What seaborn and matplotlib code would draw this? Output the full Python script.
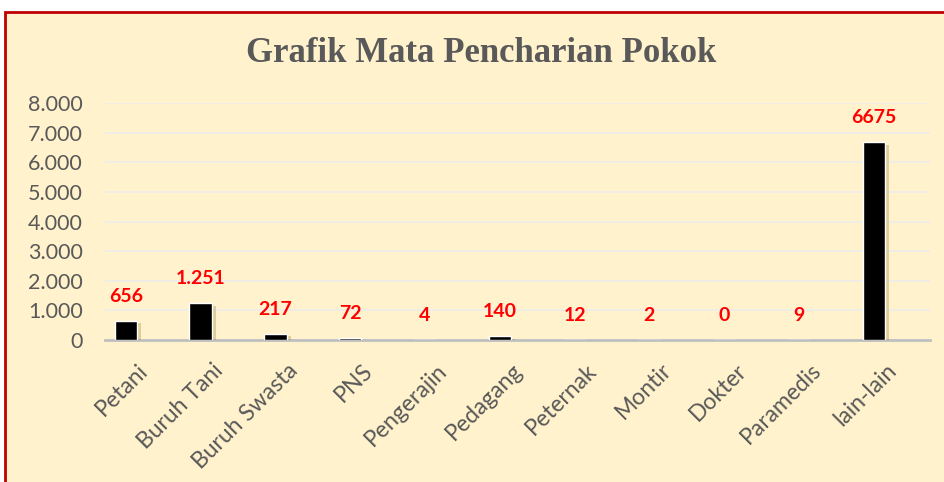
import pandas as pd
import matplotlib.pyplot as plt
import matplotlib.patheffects as pe
import matplotlib.transforms as mtrans
import seaborn as sns
from matplotlib.patches import Rectangle

categories = ["Petani", "Buruh Tani", "Buruh Swasta", "PNS", "Pengerajin", "Pedagang",
              "Peternak", "Montir", "Dokter", "Paramedis", "lain-lain"]
values = [656, 1251, 217, 72, 4, 140, 12, 2, 0, 9, 6675]
value_labels = ["656", "1.251", "217", "72", "4", "140", "12", "2", "0", "9", "6675"]
yticks = [0, 1000, 2000, 3000, 4000, 5000, 6000, 7000, 8000]
ytick_labels = ["0", "1.000", "2.000", "3.000", "4.000", "5.000", "6.000", "7.000", "8.000"]


def main():
    df = pd.DataFrame({"pekerjaan": categories, "jumlah": values})

    bg = "#FFF2CC"
    sns.set_style("white")
    plt.rcParams["font.family"] = ["Lato", "DejaVu Sans"]

    fig = plt.figure(figsize=(9.44, 4.82), dpi=100, facecolor="white")
    # outer chart frame (red border), kept behind the axes
    frame = Rectangle((5 / 944, -0.1), 1.2, 1 - 12 / 482 + 0.1,
                      transform=fig.transFigure, facecolor=bg,
                      edgecolor="#C00000", linewidth=2, zorder=-10)
    fig.patches.append(frame)

    ax = fig.add_axes([0.111, 1 - 340 / 482, 0.874, (340 - 103) / 482])
    ax.set_facecolor(bg)
    sns.barplot(data=df, x="pekerjaan", y="jumlah", color="black", width=0.3,
                ax=ax, zorder=3)
    for bar in ax.patches:
        bar.set_path_effects([pe.SimplePatchShadow(offset=(3, -2), alpha=0.25, shadow_rgbFace="#7F6000"),
                              pe.Normal()])

    ax.set_ylim(0, 8000)
    ax.set_xlim(-0.28, 10.75)
    ax.set_yticks(yticks)
    ax.set_yticklabels(ytick_labels, fontsize=15.5, color="#595959")
    ax.grid(axis="y", color="#EDEDED", linewidth=1.2, zorder=0)
    ax.set_axisbelow(True)
    for s in ["top", "right", "left"]:
        ax.spines[s].set_visible(False)
    ax.spines["bottom"].set_color("#BFBFBF")
    ax.spines["bottom"].set_linewidth(2)
    ax.tick_params(axis="y", length=0, pad=16)
    ax.tick_params(axis="x", length=0, pad=0)

    ax.set_xticks(range(len(categories)))
    ax.set_xticklabels(categories, rotation=45, ha="right", va="center",
                       rotation_mode="anchor", fontsize=16.5, color="#595959")
    shift = mtrans.ScaledTranslation(19 / 100, -27 / 100, fig.dpi_scale_trans)
    for lab in ax.get_xticklabels():
        lab.set_transform(lab.get_transform() + shift)
    ax.set_xlabel("")
    ax.set_ylabel("")

    for i, (v, lab) in enumerate(zip(values, value_labels)):
        ax.annotate(lab, (i, v), xytext=(0, 17.5), textcoords="offset points",
                    ha="center", va="center", color="#FF0000", fontsize=14,
                    fontweight="bold")

    fig.text(0.51, 1 - 53 / 482, "Grafik Mata Pencharian Pokok", ha="center", va="center",
             fontsize=25, fontweight="bold", color="#595959",
             family=["Liberation Serif", "DejaVu Serif"])

    fig.savefig("out.png", dpi=100, facecolor="white")


if __name__ == "__main__":
    main()
